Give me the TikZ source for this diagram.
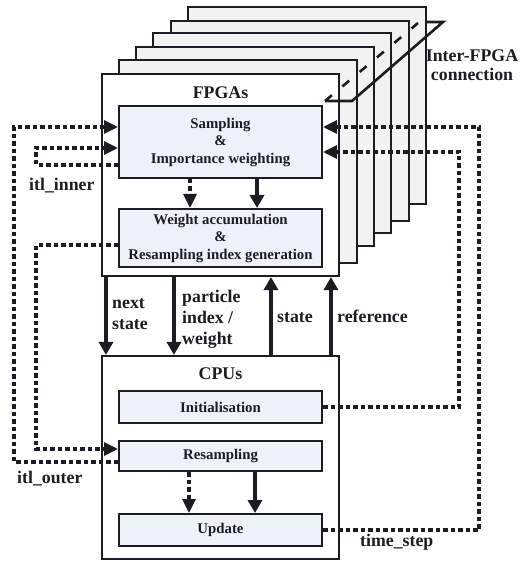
\documentclass[tikz,border=0pt]{standalone}
\usepackage{fontspec}
\setmainfont{Liberation Serif}
\usetikzlibrary{arrows.meta}
\definecolor{backgray}{HTML}{F2F2F2}
\definecolor{innerfill}{HTML}{EDF1F8}
\definecolor{ink}{HTML}{1C1C24}
\newcommand\lblfont{\fontsize{17.8}{21}\selectfont\bfseries}
\newcommand\innerfont{\fontsize{14.8}{17.5}\selectfont\bfseries}
\begin{document}
\begin{tikzpicture}[x=1pt,y=-1pt,
  outerbox/.style={draw=ink, line width=2.1pt, minimum width=237pt, minimum height=202pt, inner sep=0pt, fill=white},
  backbox/.style={outerbox, fill=backgray, minimum width=238pt},
  innerbox/.style={draw=ink, line width=2pt, fill=innerfill, minimum width=203pt, inner sep=0pt, align=center, font=\innerfont, text=ink},
  lbl/.style={font=\lblfont, text=ink, inner sep=0pt},
  dataflow/.style={line width=4.2pt, draw=ink, -{Triangle[length=13pt,width=14pt]}},
  ctrl/.style={line width=3.2pt, draw=ink, dash pattern=on 4.5pt off 3pt},
  ctrlarrow/.style={ctrl, -{Triangle[length=14pt,width=13pt]}},
  linkline/.style={line width=2.6pt, draw=ink}
]
\useasboundingbox (0,0) rectangle (527,569);

% stacked FPGA boards
\node[backbox, minimum height=197pt] (fpga5) at (307,105.5) {};
\node[backbox, minimum height=200pt] (fpga4) at (290,121) {};
\node[backbox, minimum height=200pt] (fpga3) at (272,133) {};
\node[backbox, minimum height=199pt] (fpga2) at (255,146.5) {};
\node[backbox, minimum height=203pt] (fpga1) at (238,161.5) {};
\node[outerbox] (fpga) at (220.5,175) {};
\node[lbl] (fpgatitle) at (220.5,92.5) {FPGAs};

\node[innerbox, minimum height=72pt] (samp) at (220.5,142) {Sampling\\\&\\Importance weighting};
\node[innerbox, minimum height=58pt] (wa) at (220.5,238) {Weight accumulation\\\&\\Resampling index generation};

% CPUs
\node[outerbox, minimum height=203pt] (cpu) at (220.5,457.5) {};
\node[lbl] (cputitle) at (220.5,373.5) {CPUs};
\node[innerbox, minimum height=32pt] (init) at (220.5,407) {Initialisation};
\node[innerbox, minimum height=30pt] (resamp) at (220.5,456) {Resampling};
\node[innerbox, minimum height=32pt] (update) at (220.5,530) {Update};

% internal arrows
\draw[ctrlarrow] ([xshift=-30.5pt]samp.south) -- ([xshift=-30.5pt]wa.north);
\draw[dataflow] ([xshift=36.5pt]samp.south) -- ([xshift=36.5pt]wa.north);
\draw[ctrlarrow] ([xshift=-31.5pt]resamp.south) -- ([xshift=-31.5pt]update.north);
\draw[dataflow] ([xshift=34.5pt]resamp.south) -- ([xshift=34.5pt]update.north);

% FPGA <-> CPU data
\draw[dataflow] ([xshift=5pt]fpga.south west) -- ([xshift=5pt]cpu.north west);
\draw[dataflow] ([xshift=73pt]fpga.south west) -- ([xshift=73pt]cpu.north west);
\draw[dataflow] ([xshift=170pt]cpu.north west) -- ([xshift=170pt]fpga.south west);
\draw[dataflow] ([xshift=230pt]cpu.north west) -- ([xshift=230pt]fpga.south west);
\node[lbl, anchor=west, align=left] (lnext) at (112,314) {next\\state};
\node[lbl, anchor=west, align=left] (lpart) at (182,319) {particle\\index /\\weight};
\node[lbl, anchor=base west] (lstate) at (277,322) {state};
\node[lbl, anchor=base west] (lref) at (337,322) {reference};

% control loops
\coordinate (xo) at (14,0);
\coordinate (xi) at (36,0);
\coordinate (xd) at (459,0);
\coordinate (xe) at (479,0);
\coordinate (a1) at ([yshift=-6pt]resamp.west);
\coordinate (a2) at ([yshift=15pt]samp.west);
\coordinate (b1) at ([yshift=-23pt]samp.west);
\coordinate (b2) at ([yshift=-6pt]samp.west);
\coordinate (c1) at ([yshift=-7pt]wa.west);
\coordinate (c2) at ([yshift=7pt]resamp.west);
\coordinate (d1) at (init.east);
\coordinate (d2) at ([yshift=-10pt]samp.east);
\coordinate (e1) at (update.east);
\coordinate (e2) at ([yshift=15pt]samp.east);
\draw[ctrlarrow] (a1) -- (a1 -| xo) -- (a2 -| xo) -- (a2);
\draw[ctrlarrow] (b1) -- (b1 -| xi) -- (b2 -| xi) -- (b2);
\draw[ctrlarrow] (c1) -- (c1 -| xi) -- (c2 -| xi) -- (c2);
\draw[ctrlarrow] (d1) -- (d1 -| xd) -- (d2 -| xd) -- (d2);
\draw[ctrlarrow] (e1) -- (e1 -| xe) -- (e2 -| xe) -- (e2);
\node[lbl, anchor=base west] (litlin) at (29,190) {itl\_inner};
\node[lbl, anchor=base west] (litlout) at (17,483) {itl\_outer};
\node[lbl, anchor=base west] (ltime) at (360,546) {time\_step};

% inter-FPGA connection
\coordinate (ifa) at (325,101);
\coordinate (ifb) at (352,101);
\coordinate (ifc) at (443,22);
\coordinate (ifd) at (425,22);
\coordinate (ife) at (418,23);
\draw[linkline] (ifa) -- (ifb) -- (ifc) -- (ifd);
\draw[linkline, dash pattern=on 9pt off 13.6pt] (ifa) -- (ife);
\node[lbl, align=center, font=\fontsize{17.8}{18.5}\selectfont\bfseries] (linter) at (472,65) {Inter-FPGA\\connection};
\end{tikzpicture}
\end{document}
